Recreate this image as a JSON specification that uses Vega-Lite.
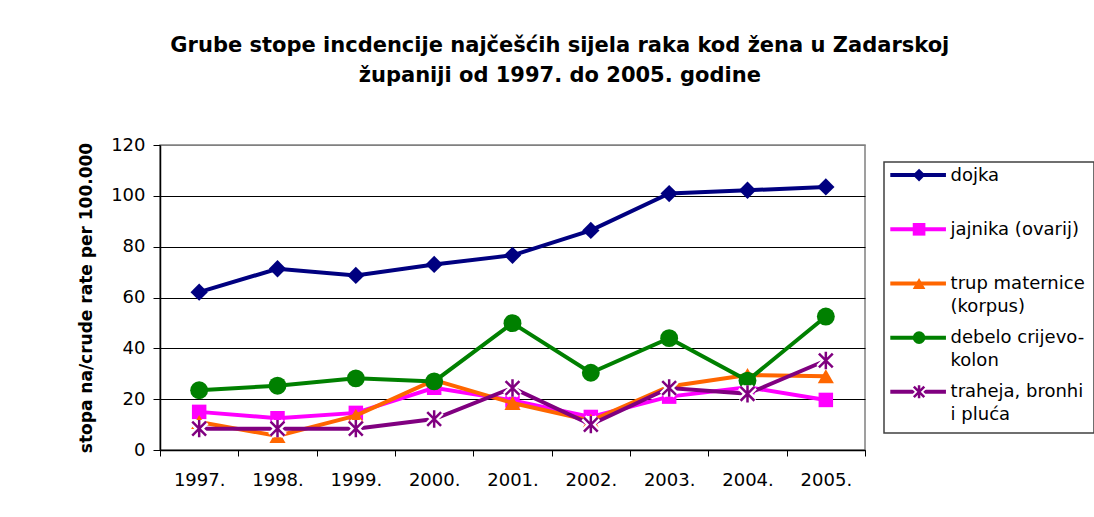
{
  "$schema": "https://vega.github.io/schema/vega-lite/v6.json",
  "padding": {"left": 76, "top": 35, "right": 0, "bottom": 0},
  "autosize": {"type": "pad"},
  "background": "white",
  "title": {
    "text": ["Grube stope incdencije najčešćih sijela raka kod žena  u Zadarskoj", "županiji od 1997. do 2005. godine"],
    "font": "DejaVu Sans",
    "fontSize": 21,
    "fontWeight": "bold",
    "lineHeight": 30,
    "color": "black",
    "anchor": "middle",
    "dx": -26,
    "offset": 49
  },
  "config": {
    "font": "DejaVu Sans",
    "view": {"stroke": "#808080", "strokeWidth": 1.5}
  },
  "spacing": 16,
  "resolve": {"scale": {"x": "independent", "y": "independent", "color": "independent"}},
  "datasets": {
    "rates": [
      {"year": "1997.", "series": "dojka", "value": 62.1},
      {"year": "1998.", "series": "dojka", "value": 71.3},
      {"year": "1999.", "series": "dojka", "value": 68.7},
      {"year": "2000.", "series": "dojka", "value": 73.0},
      {"year": "2001.", "series": "dojka", "value": 76.6},
      {"year": "2002.", "series": "dojka", "value": 86.4},
      {"year": "2003.", "series": "dojka", "value": 100.9},
      {"year": "2004.", "series": "dojka", "value": 102.2},
      {"year": "2005.", "series": "dojka", "value": 103.5},
      {"year": "1997.", "series": "jajnika (ovarij)", "value": 15.0},
      {"year": "1998.", "series": "jajnika (ovarij)", "value": 12.5},
      {"year": "1999.", "series": "jajnika (ovarij)", "value": 14.6},
      {"year": "2000.", "series": "jajnika (ovarij)", "value": 24.5},
      {"year": "2001.", "series": "jajnika (ovarij)", "value": 19.5},
      {"year": "2002.", "series": "jajnika (ovarij)", "value": 13.0},
      {"year": "2003.", "series": "jajnika (ovarij)", "value": 21.0},
      {"year": "2004.", "series": "jajnika (ovarij)", "value": 24.7},
      {"year": "2005.", "series": "jajnika (ovarij)", "value": 19.7},
      {"year": "1997.", "series": "trup maternice (korpus)", "value": 11.0},
      {"year": "1998.", "series": "trup maternice (korpus)", "value": 5.5},
      {"year": "1999.", "series": "trup maternice (korpus)", "value": 13.5},
      {"year": "2000.", "series": "trup maternice (korpus)", "value": 27.5},
      {"year": "2001.", "series": "trup maternice (korpus)", "value": 18.5},
      {"year": "2002.", "series": "trup maternice (korpus)", "value": 11.5},
      {"year": "2003.", "series": "trup maternice (korpus)", "value": 25.0},
      {"year": "2004.", "series": "trup maternice (korpus)", "value": 29.5},
      {"year": "2005.", "series": "trup maternice (korpus)", "value": 29.0},
      {"year": "1997.", "series": "debelo crijevo-kolon", "value": 23.5},
      {"year": "1998.", "series": "debelo crijevo-kolon", "value": 25.3},
      {"year": "1999.", "series": "debelo crijevo-kolon", "value": 28.2},
      {"year": "2000.", "series": "debelo crijevo-kolon", "value": 27.0},
      {"year": "2001.", "series": "debelo crijevo-kolon", "value": 49.9},
      {"year": "2002.", "series": "debelo crijevo-kolon", "value": 30.4},
      {"year": "2003.", "series": "debelo crijevo-kolon", "value": 44.0},
      {"year": "2004.", "series": "debelo crijevo-kolon", "value": 27.3},
      {"year": "2005.", "series": "debelo crijevo-kolon", "value": 52.5},
      {"year": "1997.", "series": "traheja, bronhi i pluća", "value": 8.4},
      {"year": "1998.", "series": "traheja, bronhi i pluća", "value": 8.4},
      {"year": "1999.", "series": "traheja, bronhi i pluća", "value": 8.4},
      {"year": "2000.", "series": "traheja, bronhi i pluća", "value": 12.2},
      {"year": "2001.", "series": "traheja, bronhi i pluća", "value": 24.4},
      {"year": "2002.", "series": "traheja, bronhi i pluća", "value": 10.0},
      {"year": "2003.", "series": "traheja, bronhi i pluća", "value": 24.4},
      {"year": "2004.", "series": "traheja, bronhi i pluća", "value": 22.1},
      {"year": "2005.", "series": "traheja, bronhi i pluća", "value": 35.2}
    ],
    "legend": [
      {"series": "dojka", "order": 0, "label": "dojka"},
      {"series": "jajnika (ovarij)", "order": 1, "label": "jajnika (ovarij)"},
      {"series": "trup maternice (korpus)", "order": 2, "label": "trup maternice\n(korpus)"},
      {"series": "debelo crijevo-kolon", "order": 3, "label": "debelo crijevo-\nkolon"},
      {"series": "traheja, bronhi i pluća", "order": 4, "label": "traheja, bronhi\ni pluća"}
    ]
  },
  "hconcat": [
    {
      "width": 705,
      "height": 305,
      "data": {"name": "rates"},
      "encoding": {
        "x": {
          "field": "year", "type": "ordinal", "bandPosition": 0.5,
          "scale": {"type": "band", "paddingInner": 0, "paddingOuter": 0},
          "axis": {
            "title": null, "tickBand": "extent", "labelAngle": 0, "grid": false,
            "domainColor": "black", "domainWidth": 1.5, "tickColor": "black", "tickSize": 6,
            "labelFontSize": 18, "labelColor": "black", "labelPadding": 15
          }
        },
        "y": {
          "field": "value", "type": "quantitative",
          "scale": {"domain": [0, 120], "nice": false},
          "axis": {
            "title": "stopa na/crude rate per 100.000",
            "titleFontSize": 17, "titleFontWeight": "bold", "titleColor": "black", "titlePadding": 15,
            "values": [0, 20, 40, 60, 80, 100, 120],
            "labelFontSize": 18, "labelColor": "black", "labelPadding": 8,
            "tickSize": 7, "tickColor": "black", "domainColor": "black", "domainWidth": 1.5,
            "grid": true,
            "gridColor": {"condition": {"test": "datum.value === 120", "value": "#808080"}, "value": "black"},
            "gridWidth": 1
          }
        },
        "color": {
          "field": "series", "type": "nominal",
          "scale": {
            "domain": ["dojka", "jajnika (ovarij)", "trup maternice (korpus)", "debelo crijevo-kolon", "traheja, bronhi i pluća"],
            "range": ["#000080", "#FF00FF", "#FF6600", "#008000", "#800080"]
          },
          "legend": null
        }
      },
      "layer": [
        {
          "transform": [{"filter": "datum.series === 'dojka'"}],
          "mark": {"type": "line", "strokeWidth": 4, "point": {"shape": "diamond", "size": 300, "filled": true, "opacity": 1}}
        },
        {
          "transform": [{"filter": "datum.series === 'jajnika (ovarij)'"}],
          "mark": {"type": "line", "strokeWidth": 4, "point": {"shape": "square", "size": 210, "filled": true, "opacity": 1}}
        },
        {
          "transform": [{"filter": "datum.series === 'trup maternice (korpus)'"}],
          "mark": {"type": "line", "strokeWidth": 4, "point": {"shape": "triangle-up", "size": 260, "filled": true, "opacity": 1}}
        },
        {
          "transform": [{"filter": "datum.series === 'debelo crijevo-kolon'"}],
          "mark": {"type": "line", "strokeWidth": 4, "point": {"shape": "circle", "size": 320, "filled": true, "opacity": 1}}
        },
        {
          "transform": [{"filter": "datum.series === 'traheja, bronhi i pluća'"}],
          "mark": {"type": "line", "strokeWidth": 4}
        },
        {
          "transform": [{"filter": "datum.series === 'traheja, bronhi i pluća'"}],
          "mark": {"type": "point", "shape": "M-0.8,-0.8L0.8,0.8M-0.8,0.8L0.8,-0.8M0,-1L0,1", "size": 300, "filled": false, "strokeWidth": 7, "opacity": 1},
          "encoding": {"color": {"value": "white"}}
        },
        {
          "transform": [{"filter": "datum.series === 'traheja, bronhi i pluća'"}],
          "mark": {"type": "point", "shape": "M-0.8,-0.8L0.8,0.8M-0.8,0.8L0.8,-0.8M0,-1L0,1", "size": 300, "filled": false, "strokeWidth": 2.5, "opacity": 1}
        }
      ]
    },
    {
      "width": 210,
      "height": 288,
      "view": {"stroke": null},
      "data": {"name": "legend"},
      "layer": [
        {
          "transform": [{"aggregate": [{"op": "count", "as": "n"}]}],
          "mark": {"type": "rect", "fill": "white", "stroke": "#404040", "strokeWidth": 1.5, "clip": false},
          "encoding": {
            "x": {"datum": 0, "type": "quantitative", "scale": {"domain": [0, 1], "nice": false, "zero": false}, "axis": null},
            "x2": {"datum": 1},
            "y": {"datum": -0.24, "type": "quantitative", "scale": {"domain": [-0.556, 4.76], "reverse": true, "nice": false, "zero": false}, "axis": null},
            "y2": {"datum": 4.76}
          }
        },
        {
          "mark": {"type": "rule", "strokeWidth": 4},
          "encoding": {
            "x": {"datum": 0.03, "type": "quantitative"}, "x2": {"datum": 0.295},
            "y": {"field": "order", "type": "quantitative"},
            "color": {
              "field": "series", "type": "nominal",
              "scale": {
                "domain": ["dojka", "jajnika (ovarij)", "trup maternice (korpus)", "debelo crijevo-kolon", "traheja, bronhi i pluća"],
                "range": ["#000080", "#FF00FF", "#FF6600", "#008000", "#800080"]
              },
              "legend": null
            }
          }
        },
        {
          "transform": [{"filter": "datum.series !== 'traheja, bronhi i pluća'"}],
          "mark": {"type": "point", "filled": true, "opacity": 1, "size": 160},
          "encoding": {
            "x": {"datum": 0.167, "type": "quantitative"},
            "y": {"field": "order", "type": "quantitative"},
            "color": {"field": "series", "type": "nominal", "legend": null},
            "shape": {
              "field": "series", "type": "nominal",
              "scale": {"domain": ["dojka", "jajnika (ovarij)", "trup maternice (korpus)", "debelo crijevo-kolon"], "range": ["diamond", "square", "triangle-up", "circle"]},
              "legend": null
            }
          }
        },
        {
          "transform": [{"filter": "datum.series === 'traheja, bronhi i pluća'"}],
          "mark": {"type": "point", "shape": "M-0.8,-0.8L0.8,0.8M-0.8,0.8L0.8,-0.8M0,-1L0,1", "size": 170, "filled": false, "strokeWidth": 6, "opacity": 1},
          "encoding": {"x": {"datum": 0.167, "type": "quantitative"}, "y": {"field": "order", "type": "quantitative"}, "color": {"value": "white"}}
        },
        {
          "transform": [{"filter": "datum.series === 'traheja, bronhi i pluća'"}],
          "mark": {"type": "point", "shape": "M-0.8,-0.8L0.8,0.8M-0.8,0.8L0.8,-0.8M0,-1L0,1", "size": 170, "filled": false, "strokeWidth": 2.5, "opacity": 1},
          "encoding": {"x": {"datum": 0.167, "type": "quantitative"}, "y": {"field": "order", "type": "quantitative"}, "color": {"field": "series", "type": "nominal", "legend": null}}
        },
        {
          "mark": {"type": "text", "align": "left", "baseline": "line-top", "fontSize": 18, "lineBreak": "\n", "lineHeight": 23, "dy": -11.5, "color": "black"},
          "encoding": {"x": {"datum": 0.317, "type": "quantitative"}, "y": {"field": "order", "type": "quantitative"}, "text": {"field": "label"}}
        }
      ]
    }
  ]
}
